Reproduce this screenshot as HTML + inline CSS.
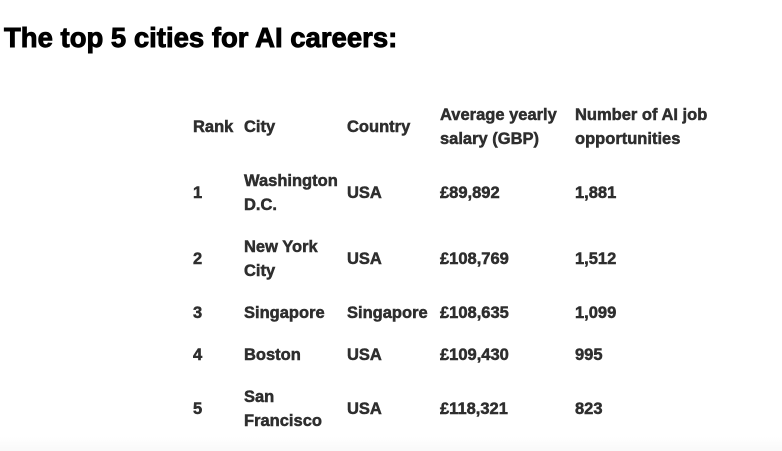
<!DOCTYPE html>
<html>
<head>
<meta charset="utf-8">
<style>
  html, body { margin:0; padding:0; }
  body {
    width:782px; height:451px; position:relative; overflow:hidden;
    background:#ffffff;
    font-family:"Liberation Sans", Arial, sans-serif;
  }
  .bottom {
    position:absolute; left:0; top:437px; width:782px; height:14px;
    background:linear-gradient(to bottom, #ffffff 0%, #f9f9f9 100%);
  }
  h1 {
    position:absolute; left:4px; top:23.7px; margin:0;
    font-family:"Liberation Sans", Arial, sans-serif;
    font-size:27.5px; line-height:27.5px; font-weight:700; color:#000;
    white-space:nowrap;
    -webkit-text-stroke:0.9px #000;
  }
  table {
    position:absolute; left:193px; top:94.3px;
    border-collapse:collapse; table-layout:fixed;
  }
  td {
    font-family:"Liberation Sans", Arial, sans-serif;
    font-size:16.5px; line-height:24px; font-weight:700; color:#2e2e2e;
    -webkit-text-stroke:0.5px #2e2e2e;
    padding:9px 0; vertical-align:middle; white-space:nowrap; text-align:left;
  }
  col.c1 { width:51px; }
  col.c2 { width:103px; }
  col.c3 { width:93px; }
  col.c4 { width:135px; }
  col.c5 { width:150px; }
  tr.one td { height:24px; }
  tr.two td { height:48px; }
</style>
</head>
<body>
  <h1><b>The top 5 cities for AI careers:</b></h1>
  <table>
    <colgroup>
      <col class="c1"><col class="c2"><col class="c3"><col class="c4"><col class="c5">
    </colgroup>
    <tr class="two">
      <td><b>Rank</b></td><td><b>City</b></td><td><b>Country</b></td>
      <td><b>Average yearly<br>salary (GBP)</b></td>
      <td><b>Number of AI job<br>opportunities</b></td>
    </tr>
    <tr class="two">
      <td><b>1</b></td><td><b>Washington<br>D.C.</b></td><td><b>USA</b></td><td><b>£89,892</b></td><td><b>1,881</b></td>
    </tr>
    <tr class="two">
      <td><b>2</b></td><td><b>New York<br>City</b></td><td><b>USA</b></td><td><b>£108,769</b></td><td><b>1,512</b></td>
    </tr>
    <tr class="one">
      <td><b>3</b></td><td><b>Singapore</b></td><td><b>Singapore</b></td><td><b>£108,635</b></td><td><b>1,099</b></td>
    </tr>
    <tr class="one">
      <td><b>4</b></td><td><b>Boston</b></td><td><b>USA</b></td><td><b>£109,430</b></td><td><b>995</b></td>
    </tr>
    <tr class="two">
      <td><b>5</b></td><td><b>San<br>Francisco</b></td><td><b>USA</b></td><td><b>£118,321</b></td><td><b>823</b></td>
    </tr>
  </table>
  <div class="bottom"></div>
</body>
</html>
